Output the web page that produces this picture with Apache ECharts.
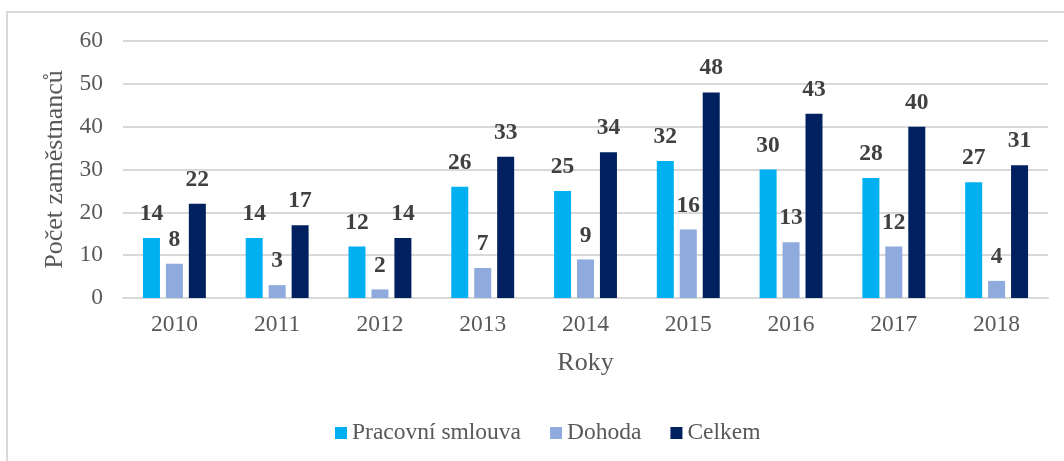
<!DOCTYPE html>
<html>
<head>
<meta charset="utf-8">
<script src="https://cdn.jsdelivr.net/npm/echarts@6/dist/echarts.min.js"></script>
<style>
  html, body { margin: 0; padding: 0; background: #fff; }
  #frame { position: absolute; left: 6px; top: 11px; width: 1058px; height: 450px;
    border-left: 2px solid #d9d9d9; border-top: 2px solid #d9d9d9; box-sizing: border-box; }
  #chart { position: absolute; left: 0; top: 0; width: 1064px; height: 461px; }
</style>
</head>
<body>
<div id="frame"></div>
<div id="chart"></div>
<script>
const years = ['2010', '2011', '2012', '2013', '2014', '2015', '2016', '2017', '2018'];
const pracovni = [14, 14, 12, 26, 25, 32, 30, 28, 27];
const dohoda = [8, 3, 2, 7, 9, 16, 13, 12, 4];
const celkem = [22, 17, 14, 33, 34, 48, 43, 40, 31];

const font = '"Liberation Serif", "Times New Roman", serif';
const label = {
  show: true,
  position: 'top',
  distance: 12,
  fontFamily: font,
  fontSize: 23.5,
  fontWeight: 'bold',
  color: '#404040',
};

function bar(name, data, color) {
  return { name, type: 'bar', data, barWidth: 17, barGap: '35%', itemStyle: { color }, label };
}

const chart = echarts.init(document.getElementById('chart'));
chart.setOption({
  animation: false,
  textStyle: { fontFamily: font },
  grid: { left: 123, right: 16, top: 41, bottom: 163 },
  legend: {
    bottom: 11,
    left: 330,
    itemWidth: 12,
    itemHeight: 12,
    itemGap: 29,
    icon: 'rect',
    textStyle: { fontFamily: font, fontSize: 23.5, color: '#595959' },
  },
  xAxis: {
    type: 'category',
    data: years,
    name: 'Roky',
    nameLocation: 'middle',
    nameGap: 52,
    nameTextStyle: { fontFamily: font, fontSize: 26, color: '#595959' },
    axisLine: { lineStyle: { color: '#d9d9d9', width: 2 } },
    axisTick: { show: false },
    axisLabel: { fontFamily: font, fontSize: 23.5, color: '#595959', margin: 15 },
  },
  yAxis: {
    type: 'value',
    min: 0,
    max: 60,
    interval: 10,
    name: 'Počet zaměstnanců',
    nameLocation: 'middle',
    nameGap: 55,
    nameTextStyle: { fontFamily: font, fontSize: 26, color: '#595959' },
    axisLine: { show: false },
    axisLabel: { fontFamily: font, fontSize: 23.5, color: '#595959', margin: 20 },
    splitLine: { lineStyle: { color: '#d9d9d9', width: 2 } },
  },
  series: [
    bar('Pracovní smlouva', pracovni, '#00B0F0'),
    bar('Dohoda', dohoda, '#8FAADC'),
    bar('Celkem', celkem, '#002060'),
  ],
});
</script>
</body>
</html>
